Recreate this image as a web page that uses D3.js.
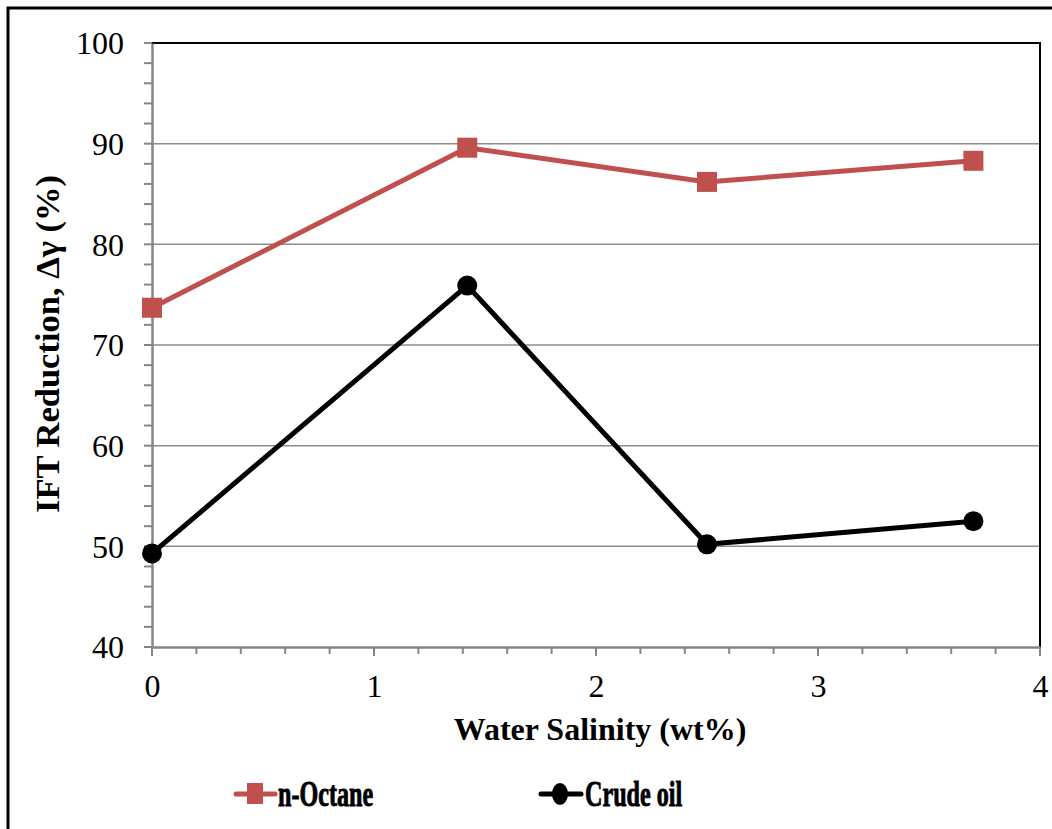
<!DOCTYPE html>
<html><head><meta charset="utf-8">
<script src="https://cdn.jsdelivr.net/npm/d3@7"></script>
<style>body{margin:0;background:#fff}svg{display:block}text{font-family:"Liberation Serif","Times New Roman",serif}</style>
</head><body>
<svg id="c" width="1052" height="829"></svg>
<script>
const salinity = [0, 1.42, 2.5, 3.7];
const octane = [73.7, 89.6, 86.2, 88.3];
const crude = [49.3, 75.9, 50.2, 52.5];
const xTicks = [0, 1, 2, 3, 4];
const yTicks = [40, 50, 60, 70, 80, 90, 100];
const seriesNames = ["n-Octane", "Crude oil"];

const svg = d3.select("#c");
const L = 152, R = 1040, T = 43, B = 647;
const x = d3.scaleLinear().domain([0, 4]).range([L, R]);
const y = d3.scaleLinear().domain([40, 100]).range([B, T]);

// outer border
svg.append("rect").attr("x", 8).attr("y", 8).attr("width", 1060).attr("height", 840)
  .attr("fill", "none").attr("stroke", "#000").attr("stroke-width", 3);

// gridlines
svg.append("g").selectAll("line").data(yTicks.filter(d => d > 40 && d < 100)).join("line")
  .attr("x1", L).attr("x2", R).attr("y1", d => y(d)).attr("y2", d => y(d))
  .attr("stroke", "#8c8c8c").attr("stroke-width", 1.5);

// plot border top/right
svg.append("path").attr("d", `M${L},${T}H${R}V${B}`).attr("fill", "none")
  .attr("stroke", "#000").attr("stroke-width", 2);

// y axis
const yMinor = d3.range(40, 100.01, 2);
svg.append("g").selectAll("line").data(yMinor).join("line")
  .attr("x1", L - 8).attr("x2", L).attr("y1", d => y(d)).attr("y2", d => y(d))
  .attr("stroke", "#868686").attr("stroke-width", 2);
const ya = d3.axisLeft(y).tickValues(yTicks).tickSize(0).tickPadding(0);
const yg = svg.append("g").attr("transform", `translate(${L},0)`).call(ya);
yg.select(".domain").attr("stroke", "#868686").attr("stroke-width", 2.5);
yg.selectAll("text").attr("x", -28).attr("dy", "0.34em").attr("font-size", 32)
  .attr("font-family", "Liberation Serif").attr("fill", "#000");

// x axis
const xMinor = d3.range(0, 4.001, 0.2);
svg.append("g").selectAll("line").data(xMinor).join("line")
  .attr("x1", d => x(d)).attr("x2", d => x(d)).attr("y1", B)
  .attr("y2", d => B + (Math.abs(d - Math.round(d)) < 1e-6 ? 9 : 7))
  .attr("stroke", "#868686").attr("stroke-width", 2);
const xa = d3.axisBottom(x).tickValues(xTicks).tickSize(0).tickPadding(0).tickFormat(d3.format("d"));
const xg = svg.append("g").attr("transform", `translate(0,${B})`).call(xa);
xg.select(".domain").attr("stroke", "#868686").attr("stroke-width", 2.5);
xg.selectAll("text").attr("y", 50).attr("dy", 0).attr("font-size", 32)
  .attr("font-family", "Liberation Serif").attr("fill", "#000");

// titles
svg.append("text").attr("x", 600).attr("y", 740).attr("text-anchor", "middle")
  .attr("font-size", 32).attr("font-weight", "bold").text("Water Salinity (wt%)");
svg.append("text").attr("transform", "translate(59,344) rotate(-90)").attr("text-anchor", "middle")
  .attr("font-size", 34.5).attr("font-weight", "bold").text("IFT Reduction, Δγ (%)");

// series
const line = d3.line().x((d, i) => x(salinity[i])).y(d => y(d));
const red = "#c0504d";
svg.append("path").datum(octane).attr("d", line).attr("fill", "none")
  .attr("stroke", red).attr("stroke-width", 5).attr("stroke-linejoin", "round");
svg.append("g").selectAll("rect").data(octane).join("rect")
  .attr("x", (d, i) => x(salinity[i]) - 10).attr("y", d => y(d) - 10)
  .attr("width", 20).attr("height", 20).attr("fill", red);
svg.append("path").datum(crude).attr("d", line).attr("fill", "none")
  .attr("stroke", "#000").attr("stroke-width", 5).attr("stroke-linejoin", "round");
svg.append("g").selectAll("circle").data(crude).join("circle")
  .attr("cx", (d, i) => x(salinity[i])).attr("cy", d => y(d)).attr("r", 10).attr("fill", "#000");

// legend (vertically stretched like the reference)
const lg = svg.append("g");
lg.append("line").attr("x1", 236).attr("x2", 275).attr("y1", 794).attr("y2", 794)
  .attr("stroke", red).attr("stroke-width", 5).attr("stroke-linecap", "round");
lg.append("rect").attr("x", 247).attr("y", 783).attr("width", 16).attr("height", 21).attr("fill", red);
lg.append("text").attr("transform", "translate(278,806) scale(0.69,1)")
  .attr("font-size", 35).attr("font-weight", "bold").attr("stroke", "#000").attr("stroke-width", 0.9)
  .text(seriesNames[0]);
lg.append("line").attr("x1", 541).attr("x2", 581).attr("y1", 794).attr("y2", 794)
  .attr("stroke", "#000").attr("stroke-width", 5).attr("stroke-linecap", "round");
lg.append("ellipse").attr("cx", 560).attr("cy", 794).attr("rx", 8).attr("ry", 11).attr("fill", "#000");
lg.append("text").attr("transform", "translate(585,806) scale(0.69,1)")
  .attr("font-size", 35).attr("font-weight", "bold").attr("stroke", "#000").attr("stroke-width", 0.9)
  .text(seriesNames[1]);
</script>
</body></html>
